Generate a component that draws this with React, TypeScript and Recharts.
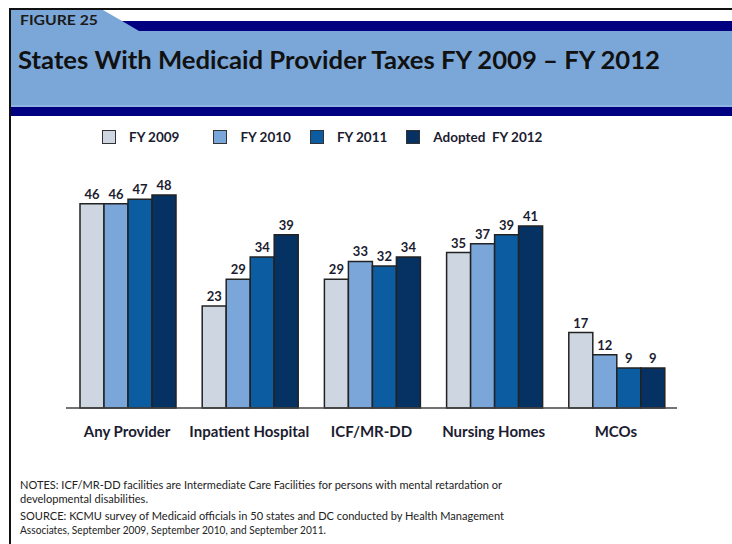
import React from "react";
import { BarChart, Bar, XAxis, YAxis, LabelList } from "recharts";

// values (number of states)
const categories = ["Any Provider", "Inpatient Hospital", "ICF/MR-DD", "Nursing Homes", "MCOs"];
const fy2009 = [46, 23, 29, 35, 17];
const fy2010 = [46, 29, 33, 37, 12];
const fy2011 = [47, 34, 32, 39, 9];
const fy2012 = [48, 39, 34, 41, 9];
const seriesNames = ["FY 2009", "FY 2010", "FY 2011", "Adopted  FY 2012"];

const data = categories.map((name, i) => ({
  name,
  fy2009: fy2009[i],
  fy2010: fy2010[i],
  fy2011: fy2011[i],
  fy2012: fy2012[i],
}));

const series = [
  { key: "fy2009", color: "#CDD6E1" },
  { key: "fy2010", color: "#7BA6DA" },
  { key: "fy2011", color: "#0B5CA0" },
  { key: "fy2012", color: "#053262" },
];

const FONT = "Lato, 'Open Sans', sans-serif";
const INK = "#1c1c30";

function LegendRow() {
  return (
    <div
      style={{
        position: "absolute",
        left: 102,
        top: 129,
        display: "flex",
        alignItems: "center",
        fontFamily: FONT,
      }}
    >
      {series.map((s, i) => (
        <div key={s.key} style={{ display: "flex", alignItems: "center", marginRight: i === 0 ? 34 : 19 }}>
          <span
            style={{
              width: 12,
              height: 12,
              background: s.color,
              border: "1.5px solid #333",
              display: "inline-block",
            }}
          />
          <span style={{ marginLeft: 13, fontSize: 13.5, fontWeight: 700, color: INK, whiteSpace: "pre" }}>
            {seriesNames[i]}
          </span>
        </div>
      ))}
    </div>
  );
}

export default function App() {
  return (
    <div style={{ position: "absolute", left: 0, top: 0, width: 732, height: 544, background: "#fff", overflow: "hidden" }}>
      <BarChart
        width={732}
        height={544}
        data={data}
        margin={{ top: 186, right: 55, left: 66, bottom: 106 }}
        barCategoryGap={14}
        barGap={0}
      >
        <XAxis
          dataKey="name"
          height={30}
          tickLine={false}
          tickSize={0}
          tickMargin={18}
          axisLine={{ stroke: "#444", strokeWidth: 1.5 }}
          tick={{ fontSize: 15, fontWeight: 700, fill: INK, fontFamily: FONT }}
          interval={0}
        />
        <YAxis hide domain={[0, 50]} />
        {series.map((s, i) => (
          <Bar
            key={s.key}
            dataKey={s.key}
            name={seriesNames[i]}
            fill={s.color}
            stroke="#222"
            strokeWidth={1.5}
            isAnimationActive={false}
          >
            <LabelList
              dataKey={s.key}
              position="top"
              offset={5}
              style={{ fontSize: 13, fontWeight: 700, fill: INK, fontFamily: FONT }}
            />
          </Bar>
        ))}
      </BarChart>

      <LegendRow />

      <svg
        width={732}
        height={544}
        style={{ position: "absolute", left: 0, top: 0, pointerEvents: "none" }}
        fontFamily={FONT}
      >
        <rect x={11} y={10} width={721} height={97} fill="#7BA7D8" />
        <polygon points="103,10 732,10 732,21 122,21" fill="#fff" />
        <polygon points="122,21 732,21 732,31 139,31" fill="#000080" />
        <rect x={11} y={105} width={721} height={2} fill="#8FB6E2" />
        <rect x={11} y={107} width={721} height={9} fill="#000080" />
        <rect x={9} y={8} width={723} height={2} fill="#111" />
        <rect x={9} y={8} width={2} height={536} fill="#111" />
        <text x={20} y={25} fontSize={14} fontWeight={700} fill="#1a1a1a" textLength={78} lengthAdjust="spacingAndGlyphs">
          FIGURE 25
        </text>
        <text x={18} y={69} fontSize={24} fontWeight={700} fill="#111" textLength={642} lengthAdjust="spacingAndGlyphs">
          States With Medicaid Provider Taxes FY 2009 – FY 2012
        </text>
        <g fontSize={10.5} fill="#222">
          <text x={20} y={489} textLength={482} lengthAdjust="spacingAndGlyphs">
            NOTES: ICF/MR-DD facilities are Intermediate Care Facilities for persons with mental retardation or
          </text>
          <text x={20} y={503} textLength={128} lengthAdjust="spacingAndGlyphs">
            developmental disabilities.
          </text>
          <text x={20} y={520} textLength={484} lengthAdjust="spacingAndGlyphs">
            SOURCE:  KCMU survey of Medicaid officials in 50 states and DC conducted by Health Management
          </text>
          <text x={20} y={534} textLength={306} lengthAdjust="spacingAndGlyphs">
            Associates, September 2009, September 2010, and September 2011.
          </text>
        </g>
      </svg>
    </div>
  );
}
